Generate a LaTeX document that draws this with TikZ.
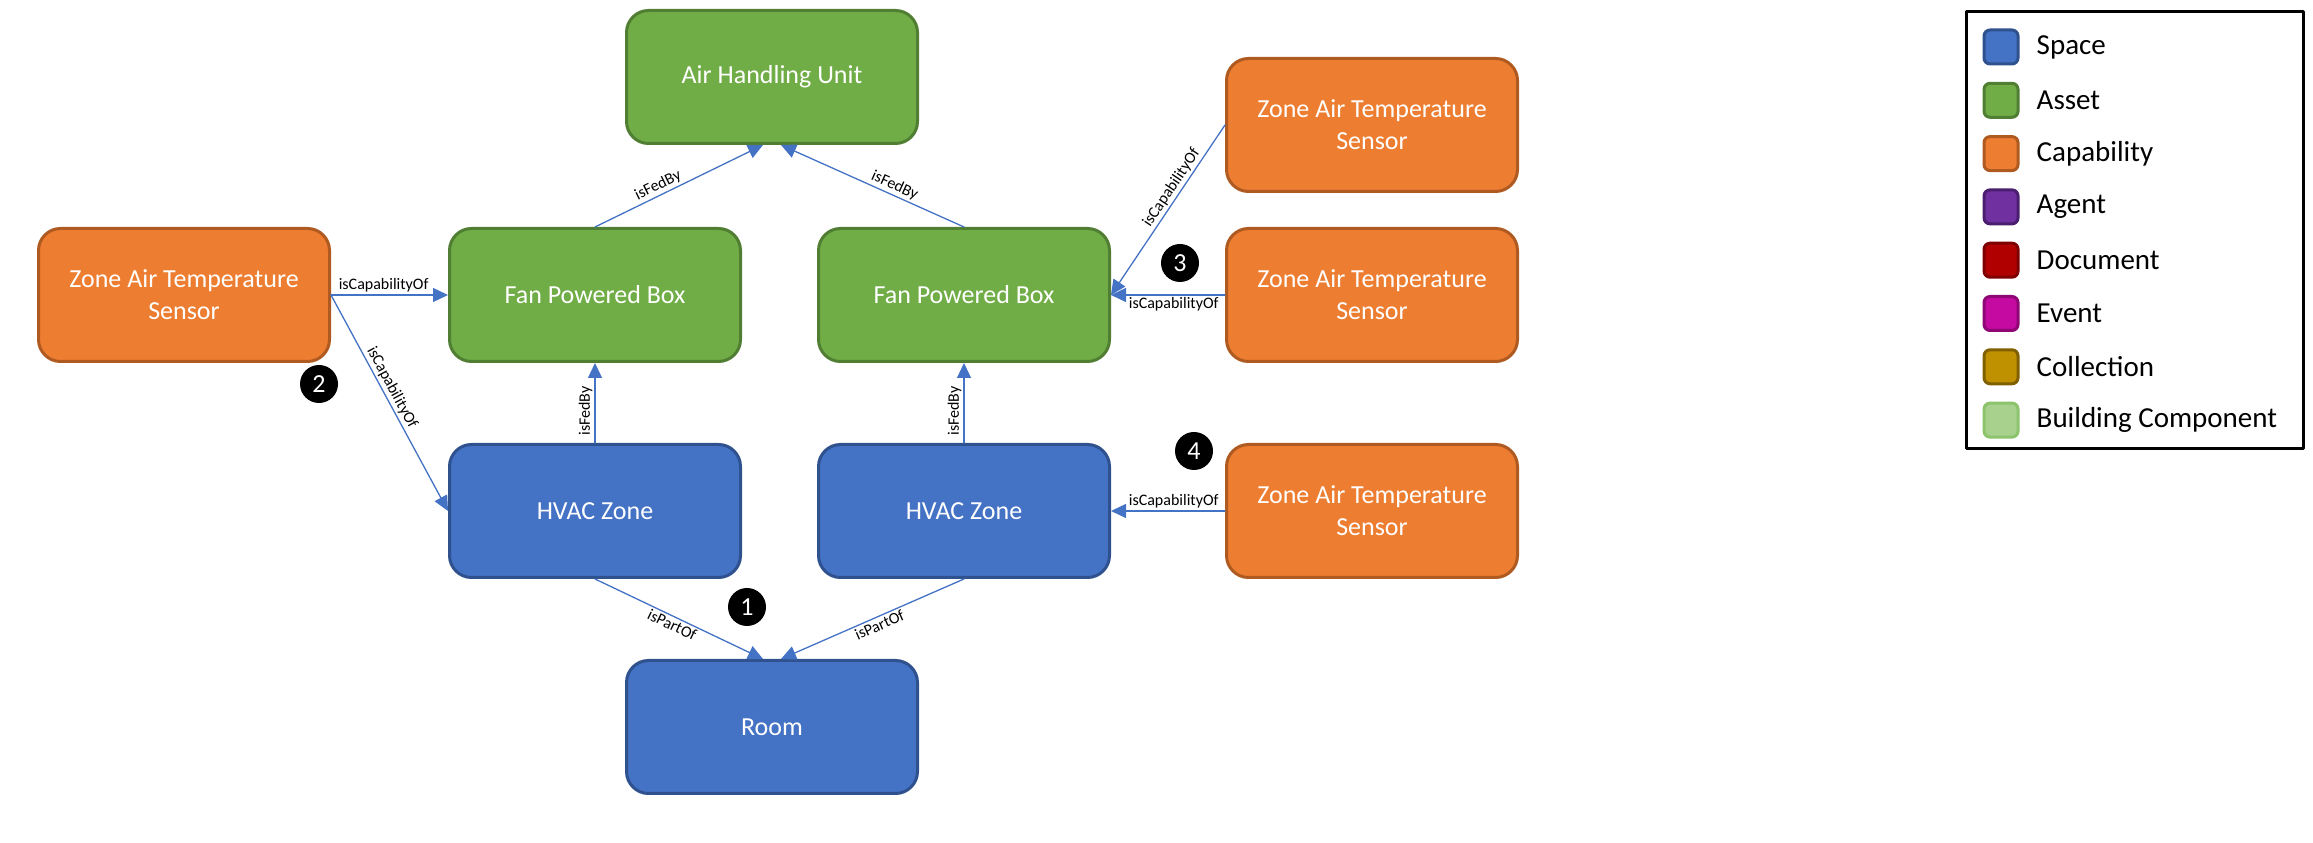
\documentclass[tikz,border=0pt]{standalone}
\usepackage{fontspec}
\setmainfont{Carlito}
\usetikzlibrary{arrows.meta,positioning}
\definecolor{spacefill}{HTML}{4472C4}
\definecolor{spacedraw}{HTML}{2F528F}
\definecolor{assetfill}{HTML}{70AD47}
\definecolor{assetdraw}{HTML}{507E32}
\definecolor{capabfill}{HTML}{ED7D31}
\definecolor{capabdraw}{HTML}{AE5A21}
\definecolor{agentfill}{HTML}{7030A0}
\definecolor{agentdraw}{HTML}{4B1F6F}
\definecolor{docfill}{HTML}{B00000}
\definecolor{docdraw}{HTML}{7F0000}
\definecolor{eventfill}{HTML}{C40AA0}
\definecolor{eventdraw}{HTML}{8E0774}
\definecolor{collfill}{HTML}{BF9000}
\definecolor{colldraw}{HTML}{806000}
\definecolor{bcompfill}{HTML}{A9D18E}
\definecolor{bcompdraw}{HTML}{8CC46C}
\definecolor{relblue}{HTML}{4472C4}

\begin{document}
\begin{tikzpicture}[
  x=1pt, y=1pt, line cap=round, line join=round,
  box/.style   ={rounded corners=22pt, line width=3pt, minimum width=291pt,
                 minimum height=133pt, align=center, text=white,
                 font=\fontsize{26}{32}\selectfont},
  space/.style ={box, fill=spacefill, draw=spacedraw},
  asset/.style ={box, fill=assetfill, draw=assetdraw},
  capab/.style ={box, fill=capabfill, draw=capabdraw},
  rel/.style   ={draw=relblue, line width=1.3pt, -{Triangle[length=15pt,width=14pt]}},
  rellbl/.style={font=\fontsize{16}{18}\selectfont, text=black, inner sep=2pt, sloped},
  badge/.style ={circle, fill=black, text=white, minimum size=38pt, inner sep=0pt,
                 font=\fontsize{26}{30}\selectfont},
  legsw/.style ={rounded corners=6pt, line width=3pt, minimum size=34pt, inner sep=0pt},
  legtxt/.style={inner sep=0pt, font=\fontsize{29}{34}\selectfont}
]
\useasboundingbox (0,0) rectangle (2313,843);

% --- entities --------------------------------------------------------
\node[asset] (ahu)   at (772,766)  {Air Handling Unit};
\node[asset] (fpbL)  at (595,548)  {Fan Powered Box};
\node[asset] (fpbR)  at (964,548)  {Fan Powered Box};
\node[space] (zoneL) at (595,332)  {HVAC Zone};
\node[space] (zoneR) at (964,332)  {HVAC Zone};
\node[space] (room)  at (772,116)  {Room};
\node[capab] (zatL)  at (184,548)  {Zone Air Temperature\\Sensor};
\node[capab] (zatT)  at (1372,718) {Zone Air Temperature\\Sensor};
\node[capab] (zatM)  at (1372,548) {Zone Air Temperature\\Sensor};
\node[capab] (zatB)  at (1372,332) {Zone Air Temperature\\Sensor};

% --- relations -------------------------------------------------------
\draw[rel] (fpbL.north) -- node[rellbl, above, pos=0.4] {isFedBy} ([xshift=-9pt]ahu.south);
\draw[rel] (fpbR.north) -- node[rellbl, above, pos=0.4] {isFedBy} ([xshift=9pt]ahu.south);
\draw[rel] (zoneL.north) -- node[rellbl, above, pos=0.4] {isFedBy} (fpbL.south);
\draw[rel] (zoneR.north) -- node[rellbl, above, pos=0.4] {isFedBy} (fpbR.south);
\draw[rel] (zoneL.south) -- node[rellbl, below, pos=0.48] {isPartOf} ([xshift=-9pt]room.north);
\draw[rel] (zoneR.south) -- node[rellbl, below, pos=0.48] {isPartOf} ([xshift=9pt]room.north);

\draw[rel] (zatL.east) -- node[rellbl, above, pos=0.45] {isCapabilityOf} (fpbL.west);
\draw[rel] (zatL.east) -- node[rellbl, above, pos=0.45] {isCapabilityOf} (zoneL.west);
\draw[rel] (zatT.west) -- node[rellbl, above, pos=0.4]  {isCapabilityOf} (fpbR.east);
\draw[rel] (zatM.west) -- node[rellbl, below, pos=0.45] {isCapabilityOf} (fpbR.east);
\draw[rel] (zatB.west) -- node[rellbl, above, pos=0.45] {isCapabilityOf} (zoneR.east);

% --- numbered callouts -----------------------------------------------
\node[badge] (b1) at (747,236)  {1};
\node[badge] (b2) at (319,459)  {2};
\node[badge] (b3) at (1180,580) {3};
\node[badge] (b4) at (1194,392) {4};

% --- legend ----------------------------------------------------------
\node[draw, line width=3pt, minimum width=337pt, minimum height=437pt] (legend) at (2135,613) {};
\foreach \nm/\cf/\cd [count=\i from 0] in {Space/spacefill/spacedraw,
    Asset/assetfill/assetdraw, Capability/capabfill/capabdraw,
    Agent/agentfill/agentdraw, Document/docfill/docdraw,
    Event/eventfill/eventdraw, Collection/collfill/colldraw,
    Building Component/bcompfill/bcompdraw}
{
  \node[legsw, fill=\cf, draw=\cd] (sw\i) at (2001,{796-53.3*\i}) {};
  \node[legtxt, right=17pt of sw\i] (lt\i) {\nm};
}

\end{tikzpicture}
\end{document}
